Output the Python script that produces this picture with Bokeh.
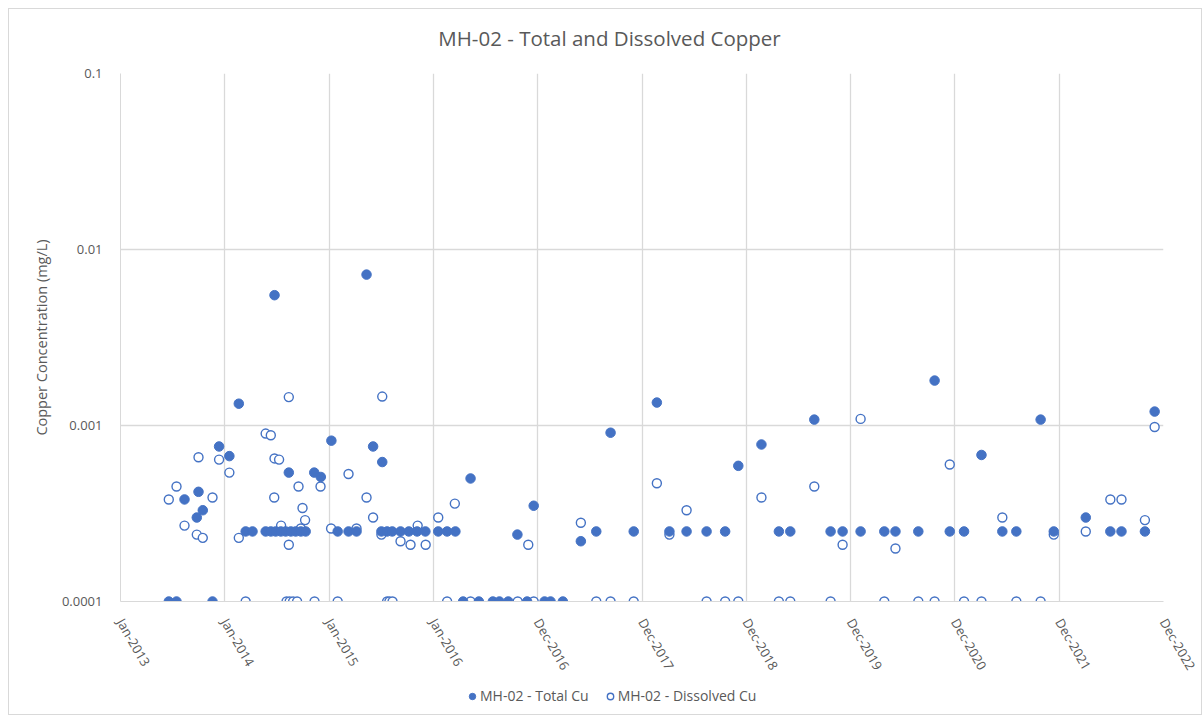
import math
import pandas as pd
from bokeh.plotting import figure
from bokeh.layouts import column
from bokeh.models import (ColumnDataSource, FixedTicker, Legend, LegendItem, Range1d,
                          DatetimeTickFormatter, Label)
from bokeh.embed import file_html
from bokeh.resources import INLINE

# ---- data -------------------------------------------------------------
total_dates = [
    "2013-06-19", "2013-07-16", "2013-08-13", "2013-09-25", "2013-10-01", "2013-10-16",
    "2013-11-19", "2013-12-12", "2014-01-17", "2014-02-19", "2014-03-15", "2014-04-08",
    "2014-05-24", "2014-06-11", "2014-06-24", "2014-06-28", "2014-07-16", "2014-08-02",
    "2014-08-13", "2014-08-20", "2014-09-06", "2014-09-24", "2014-10-11", "2014-11-10",
    "2014-12-03", "2015-01-09", "2015-01-31", "2015-03-10", "2015-04-07", "2015-05-12",
    "2015-06-04", "2015-07-03", "2015-07-06", "2015-07-23", "2015-08-10", "2015-09-08",
    "2015-10-07", "2015-11-05", "2015-12-04", "2016-01-18", "2016-02-18", "2016-03-18",
    "2016-04-14", "2016-05-10", "2016-06-08", "2016-07-27", "2016-08-19", "2016-09-19",
    "2016-10-21", "2016-11-24", "2016-12-17", "2017-01-24", "2017-02-14", "2017-03-29",
    "2017-05-31", "2017-07-24", "2017-09-12", "2017-12-02", "2018-02-21", "2018-04-06",
    "2018-06-05", "2018-08-14", "2018-10-18", "2018-12-03", "2019-02-22", "2019-04-24",
    "2019-06-03", "2019-08-26", "2019-10-22", "2019-12-03", "2020-02-04", "2020-04-27",
    "2020-06-05", "2020-08-24", "2020-10-20", "2020-12-12", "2021-01-31", "2021-04-02",
    "2021-06-14", "2021-08-02", "2021-10-26", "2021-12-11", "2022-04-02", "2022-06-27",
    "2022-08-05", "2022-10-26", "2022-11-29",
]
total_cu = [
    0.0001, 0.0001, 0.00038, 0.0003, 0.00042, 0.00033,
    0.0001, 0.00076, 0.00067, 0.00133, 0.00025, 0.00025,
    0.00025, 0.00025, 0.0055, 0.00025, 0.00025, 0.00025,
    0.00054, 0.00025, 0.00025, 0.00025, 0.00025, 0.00054,
    0.00051, 0.00082, 0.00025, 0.00025, 0.00025, 0.0072,
    0.00076, 0.00025, 0.00062, 0.00025, 0.00025, 0.00025,
    0.00025, 0.00025, 0.00025, 0.00025, 0.00025, 0.00025,
    0.0001, 0.0005, 0.0001, 0.0001, 0.0001, 0.0001,
    0.00024, 0.0001, 0.00035, 0.0001, 0.0001, 0.0001,
    0.00022, 0.00025, 0.00091, 0.00025, 0.00135, 0.00025,
    0.00025, 0.00025, 0.00025, 0.00059, 0.00078, 0.00025,
    0.00025, 0.00108, 0.00025, 0.00025, 0.00025, 0.00025,
    0.00025, 0.00025, 0.0018, 0.00025, 0.00025, 0.00068,
    0.00025, 0.00025, 0.00108, 0.00025, 0.0003, 0.00025,
    0.00025, 0.00025, 0.0012,
]

dissolved_dates = [
    "2013-06-19", "2013-07-16", "2013-08-13", "2013-09-25", "2013-10-01", "2013-10-16",
    "2013-11-19", "2013-12-12", "2014-01-17", "2014-02-19", "2014-03-15", "2014-05-24",
    "2014-06-11", "2014-06-23", "2014-06-24", "2014-07-10", "2014-07-17", "2014-08-05",
    "2014-08-13", "2014-08-13", "2014-08-16", "2014-08-28", "2014-09-11", "2014-09-16",
    "2014-09-24", "2014-09-30", "2014-10-09", "2014-11-11", "2014-12-02", "2015-01-08",
    "2015-01-31", "2015-03-10", "2015-04-07", "2015-05-12", "2015-06-04", "2015-07-03",
    "2015-07-06", "2015-07-23", "2015-07-31", "2015-08-11", "2015-09-08", "2015-10-13",
    "2015-11-07", "2015-12-05", "2016-01-18", "2016-02-18", "2016-03-16", "2016-05-10",
    "2016-10-22", "2016-11-28", "2016-12-17", "2017-05-31", "2017-07-24", "2017-09-12",
    "2017-12-02", "2018-02-21", "2018-04-06", "2018-06-05", "2018-08-14", "2018-10-18",
    "2018-12-03", "2019-02-22", "2019-04-24", "2019-06-03", "2019-08-26", "2019-10-22",
    "2019-12-03", "2020-02-04", "2020-04-27", "2020-06-05", "2020-08-24", "2020-10-20",
    "2020-12-12", "2021-01-31", "2021-04-02", "2021-06-14", "2021-08-02", "2021-10-26",
    "2021-12-11", "2022-04-02", "2022-06-27", "2022-08-05", "2022-10-26", "2022-11-29",
]
dissolved_cu = [
    0.00038, 0.00045, 0.00027, 0.00024, 0.00066, 0.00023,
    0.00039, 0.00064, 0.00054, 0.00023, 0.0001, 0.0009,
    0.00088, 0.00039, 0.00065, 0.00064, 0.00027, 0.0001,
    0.00145, 0.00021, 0.0001, 0.0001, 0.0001, 0.00045,
    0.00026, 0.00034, 0.00029, 0.0001, 0.00045, 0.00026,
    0.0001, 0.00053, 0.00026, 0.00039, 0.0003, 0.00024,
    0.00146, 0.0001, 0.0001, 0.0001, 0.00022, 0.00021,
    0.00027, 0.00021, 0.0003, 0.0001, 0.00036, 0.0001,
    0.0001, 0.00021, 0.0001, 0.00028, 0.0001, 0.0001,
    0.0001, 0.00047, 0.00024, 0.00033, 0.0001, 0.0001,
    0.0001, 0.00039, 0.0001, 0.0001, 0.00045, 0.0001,
    0.00021, 0.00109, 0.0001, 0.0002, 0.0001, 0.0001,
    0.0006, 0.0001, 0.0001, 0.0003, 0.0001, 0.0001,
    0.00024, 0.00025, 0.00038, 0.00038, 0.00029, 0.00098,
]

x_tick_labels = ["Jan-2013", "Jan-2014", "Jan-2015", "Jan-2016", "Dec-2016", "Dec-2017",
                 "Dec-2018", "Dec-2019", "Dec-2020", "Dec-2021", "Dec-2022"]
y_ticks = [0.0001, 0.001, 0.01, 0.1]
y_tick_labels = ["0.0001", "0.001", "0.01", "0.1"]

chart_title = "MH-02 - Total and Dissolved Copper"
series_names = ["MH-02 - Total Cu", "MH-02 - Dissolved Cu"]

# ---- styling ----------------------------------------------------------
BLUE = "#4472C4"
TEXT = "#595959"
GRID = "#d9d9d9"
FONT = "Open Sans"
W = 1192            # canvas width of every strip
FRAME_W = 1043      # plot area width (shared by all strips, frames are aligned)

# date axis: major unit of 365 days starting 1 Jan 2013
axis_start = pd.Timestamp("2013-01-01")
x_ticks = [int((axis_start + pd.Timedelta(days=365 * k)).value // 10**6)
           for k in range(len(x_tick_labels))]

total_src = ColumnDataSource(dict(date=pd.to_datetime(total_dates), cu=total_cu))
diss_src = ColumnDataSource(dict(date=pd.to_datetime(dissolved_dates), cu=dissolved_cu))


def strip(height):
    """Axis-less figure used for the title and legend rows."""
    f = figure(width=W, height=height,
               x_range=Range1d(0, FRAME_W), y_range=Range1d(0, height),
               x_axis_location=None, y_axis_location=None,
               output_backend="svg", toolbar_location=None,
               min_border_top=0, min_border_bottom=0,
               min_border_left=111, min_border_right=38)
    f.outline_line_color = None
    f.grid.visible = False
    f.background_fill_color = "white"
    f.border_fill_color = "white"
    return f


# ---- title row --------------------------------------------------------
title_fig = strip(54)
title_fig.add_layout(Label(x=489, y=26, text=chart_title, text_align="center",
                           text_baseline="middle", text_font=FONT,
                           text_font_size="20.5px", text_color=TEXT))

# ---- main chart -------------------------------------------------------
p = figure(
    width=W, height=618,
    x_axis_type="datetime", y_axis_type="log",
    x_range=Range1d(x_ticks[0], x_ticks[-1]),
    y_range=Range1d(y_ticks[0], y_ticks[-1]),
    output_backend="svg", toolbar_location=None,
    min_border_left=111, min_border_right=38,
    min_border_top=10, min_border_bottom=80,
)
p.background_fill_color = "white"
p.border_fill_color = "white"
p.outline_line_color = None

xa = p.xaxis[0]
xa.ticker = FixedTicker(ticks=x_ticks, minor_ticks=[])
xa.formatter = DatetimeTickFormatter(days="%b-%Y", months="%b-%Y", years="%b-%Y")
xa.major_label_overrides = {t: lab for t, lab in zip(x_ticks, x_tick_labels)}
xa.major_label_orientation = -math.pi / 3
xa.major_label_text_font = FONT
xa.major_label_text_font_size = "13px"
xa.major_label_text_color = TEXT
xa.major_tick_line_color = None
xa.minor_tick_line_color = None
xa.axis_line_color = GRID
xa.major_label_standoff = 12

ya = p.yaxis[0]
ya.ticker = FixedTicker(ticks=y_ticks, minor_ticks=[])
ya.major_label_overrides = {t: lab for t, lab in zip(y_ticks, y_tick_labels)}
ya.major_label_text_font = FONT
ya.major_label_text_font_size = "13px"
ya.major_label_text_color = TEXT
ya.major_tick_line_color = None
ya.minor_tick_line_color = None
ya.axis_line_color = GRID
ya.major_label_standoff = 12
ya.axis_label = "Copper Concentration (mg/L)"
ya.axis_label_text_font = FONT
ya.axis_label_text_font_size = "14.5px"
ya.axis_label_text_font_style = "normal"
ya.axis_label_text_color = TEXT
ya.axis_label_standoff = 8

p.xgrid.grid_line_color = GRID
p.ygrid.grid_line_color = GRID
p.xgrid.grid_line_width = 1.3
p.ygrid.grid_line_width = 1.3

# dissolved (open) markers below, total (filled) markers on top
p.scatter("date", "cu", source=diss_src, marker="circle", size=9,
          fill_color="white", line_color=BLUE, line_width=1.4)
p.scatter("date", "cu", source=total_src, marker="circle", size=9.5,
          fill_color=BLUE, line_color=BLUE, line_width=1)

# ---- legend row -------------------------------------------------------
leg_fig = strip(33)
# swatch renderers sit outside the strip's ranges, so only the legend shows them
leg_total = leg_fig.scatter(x=[-100], y=[-100], marker="circle", size=9.5,
                            fill_color=BLUE, line_color=BLUE, line_width=1)
leg_diss = leg_fig.scatter(x=[-100], y=[-100], marker="circle", size=9,
                           fill_color="white", line_color=BLUE, line_width=1.4)
legend = Legend(
    items=[LegendItem(label=series_names[0], renderers=[leg_total]),
           LegendItem(label=series_names[1], renderers=[leg_diss])],
    orientation="horizontal", location=(344, 9),
    border_line_color=None, background_fill_alpha=0,
    label_text_font=FONT, label_text_font_size="14px", label_text_color=TEXT,
    glyph_width=16, glyph_height=16, label_standoff=0, spacing=13,
    padding=2, margin=0,
)
leg_fig.add_layout(legend)

layout = column(title_fig, p, leg_fig, spacing=0)
layout.margin = (8, 0, 0, 8)
layout.styles = {"border": f"1px solid {GRID}"}

open("out.html", "w").write(file_html(layout, INLINE))
